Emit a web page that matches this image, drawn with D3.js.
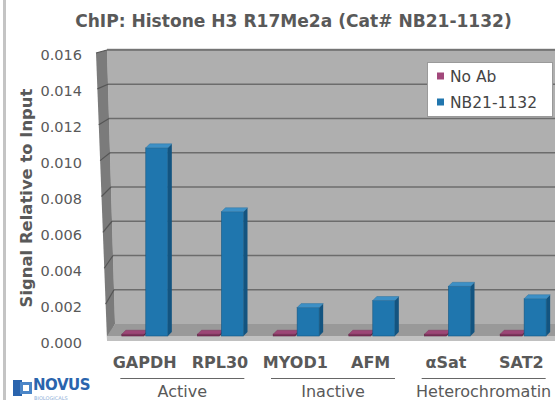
<!DOCTYPE html>
<html><head><meta charset="utf-8">
<script src="https://cdn.jsdelivr.net/npm/d3@7/dist/d3.min.js"></script>
<style>html,body{margin:0;padding:0;background:#fff;}svg{display:block;}</style>
</head><body>
<svg id="c" width="558" height="400"></svg>
<script>
const categories = ["GAPDH","RPL30","MYOD1","AFM","αSat","SAT2"];
const groups = ["Active","Inactive","Heterochromatin"];
const groupMembers = [["GAPDH","RPL30"],["MYOD1","AFM"],["αSat","SAT2"]];
const seriesNames = ["No Ab","NB21-1132"];
const noAbValues = [0.0001,0.0001,0.0001,0.0001,0.0001,0.0001];
const nb21Values = [0.0106,0.0070,0.0016,0.0020,0.0028,0.0021];
const yTicks = [0,0.002,0.004,0.006,0.008,0.010,0.012,0.014,0.016];
const titleText = "ChIP: Histone H3 R17Me2a (Cat# NB21-1132)";
const yTitleText = "Signal Relative to Input";

const FONT = "Verdana, 'DejaVu Sans', sans-serif";
const TXT = "#595959";
const svg = d3.select("#c");

function fit(sel, w){
  const L = sel.node().getComputedTextLength();
  const fs = parseFloat(sel.attr("font-size"));
  sel.attr("font-size", fs*w/L);
}

// scales
const yBack = d3.scaleLinear().domain([0,0.016]).range([324,50]);
const yFront = d3.scaleLinear().domain([0,0.016]).range([340,53]);
const yBar = d3.scaleLinear().domain([0,0.016]).range([336,52]);
const yLab = d3.scaleLinear().domain([0,0.016]).range([343,55]);
const xBand = d3.scaleBand().domain(categories).range([117,571]).padding(0);
const xSub = d3.scaleBand().domain(seriesNames).range([-33,13]).paddingInner(0.08);
const xLabel = d3.scaleBand().domain(categories).range([107,559]).padding(0);
const colors = d3.scaleOrdinal().domain(seriesNames).range(["#a2487b","#2176ae"]);

// left border
svg.append("rect").attr("x",3).attr("y",0).attr("width",3).attr("height",400).attr("fill","#c4c4c4");

// back wall (left edge slanted)
const wallLeftX = y => 107 + (y-50)/(324-50)*8;
svg.append("polygon")
  .attr("points",[[107,50],[555,50],[555,324],[115,324]].map(p=>p.join(",")).join(" "))
  .attr("fill","#afafaf");
svg.append("line").attr("x1",107).attr("x2",555).attr("y1",49.5).attr("y2",49.5).attr("stroke","#8a8a8a").attr("stroke-width",1.5);

// side wall
const frontX = y => 96 + (y-53)/(340-53)*11;
svg.append("polygon")
  .attr("points",[[96,53],[107,50],[115,324],[107,340]].map(p=>p.join(",")).join(" "))
  .attr("fill","#7b7b7b");

// gridlines on back wall and side wall
yTicks.filter(t=>t>0).forEach(t=>{
  const yb = yBack(t), yf = yFront(t);
  svg.append("line").attr("x1",wallLeftX(yb)).attr("x2",555).attr("y1",yb).attr("y2",yb)
    .attr("stroke","#6c6c6c").attr("stroke-width",1.3);
  svg.append("line").attr("x1",frontX(yf)).attr("x2",wallLeftX(yb)).attr("y1",yf).attr("y2",yb)
    .attr("stroke","#555").attr("stroke-width",1.2);
});

// floor
svg.append("polygon")
  .attr("points",[[115,324],[555,324],[555,336],[107,336]].map(p=>p.join(",")).join(" "))
  .attr("fill","#999999");
svg.append("polygon")
  .attr("points",[[107,336],[555,336],[555,341],[107,341]].map(p=>p.join(",")).join(" "))
  .attr("fill","#c0c0c0");

// 3D bars
const DX = 4, DY = -4;
function bar3d(g, x0, w, v, cFront, cTop, cSide){
  const yt = yBar(v), yb = yBar(0);
  g.append("polygon").attr("points",[[x0+w,yt],[x0+w+DX,yt+DY],[x0+w+DX,yb+DY],[x0+w,yb]].map(p=>p.join(",")).join(" "))
    .attr("fill",cSide);
  g.append("rect").attr("x",x0).attr("y",yt).attr("width",w).attr("height",Math.max(0.5,yb-yt))
    .attr("fill",cFront).attr("stroke",d3.color(cFront).darker(0.8)).attr("stroke-width",0.6);
  g.append("polygon").attr("points",[[x0,yt],[x0+DX,yt+DY],[x0+w+DX,yt+DY],[x0+w,yt]].map(p=>p.join(",")).join(" "))
    .attr("fill",cTop).attr("stroke",d3.color(cTop).darker(0.6)).attr("stroke-width",0.5);
}
const barsG = svg.append("g");
categories.forEach((c,i)=>{
  const cx = xBand(c) + xBand.bandwidth()/2;
  bar3d(barsG, cx + xSub("No Ab"), xSub.bandwidth(), noAbValues[i], "#7e2f5a", "#9c4676", "#5e2343");
});
categories.forEach((c,i)=>{
  const cx = xBand(c) + xBand.bandwidth()/2;
  bar3d(barsG, cx + xSub("NB21-1132"), xSub.bandwidth(), nb21Values[i], "#1f76ae", "#3d90c6", "#135480");
});

// y tick labels
svg.append("g").selectAll("text").data(yTicks).join("text")
  .attr("x",82).attr("y",d=>yLab(d)).attr("dy","0.35em")
  .attr("text-anchor","end").attr("font-family",FONT).attr("font-size",14.5).attr("fill",TXT)
  .text(d=>d3.format(".3f")(d));

// title
const title = svg.append("text").attr("x",293.5).attr("y",27).attr("text-anchor","middle")
  .attr("font-family",FONT).attr("font-weight","bold").attr("font-size",14).attr("fill",TXT).text(titleText);
fit(title, 437);

// y title
const yt = svg.append("text").attr("transform","translate(32,198) rotate(-90)").attr("text-anchor","middle")
  .attr("font-family",FONT).attr("font-weight","bold").attr("font-size",15).attr("fill",TXT).text(yTitleText);
fit(yt, 219);

// category labels
svg.append("g").selectAll("text").data(categories).join("text")
  .attr("x",d=>xLabel(d)+xLabel.bandwidth()/2).attr("y",368).attr("text-anchor","middle")
  .attr("font-family",FONT).attr("font-weight","bold").attr("font-size",16).attr("fill",TXT)
  .text(d=>d);

// groups
groups.forEach((g,i)=>{
  const m = groupMembers[i];
  const gc = (xLabel(m[0]) + xLabel(m[1]) + xLabel.bandwidth())/2;
  svg.append("line").attr("x1",gc-62).attr("x2",gc+62).attr("y1",378.5).attr("y2",378.5)
    .attr("stroke","#666").attr("stroke-width",1.2);
  svg.append("text").attr("x",gc).attr("y",397).attr("text-anchor","middle")
    .attr("font-family",FONT).attr("font-size",16).attr("fill",TXT).text(g);
});

// legend
const lg = svg.append("g");
lg.append("rect").attr("x",427.5).attr("y",62.5).attr("width",125).attr("height",54)
  .attr("fill","#fff").attr("stroke","#9a9a9a").attr("stroke-width",1);
seriesNames.forEach((s,i)=>{
  const yy = 76 + i*26;
  lg.append("rect").attr("x",437).attr("y",yy-3.5).attr("width",7).attr("height",7).attr("fill",colors(s));
  lg.append("text").attr("x",450).attr("y",yy).attr("dy","0.36em")
    .attr("font-family",FONT).attr("font-size",15.5).attr("fill","#444").text(s);
});

// logo
const logo = svg.append("g");
logo.append("rect").attr("x",13).attr("y",380).attr("width",9).attr("height",16).attr("fill","#2a64ad");
logo.append("rect").attr("x",20).attr("y",382).attr("width",12).attr("height",12).attr("fill","#4b86c8");
logo.append("rect").attr("x",23).attr("y",385).attr("width",6).attr("height",6).attr("fill","#fff");
logo.append("text").attr("x",33).attr("y",390).attr("font-family",FONT).attr("font-weight","bold")
  .attr("font-size",15).attr("fill","#2a64ad").attr("letter-spacing",-0.5).text("NOVUS");
logo.append("text").attr("x",34).attr("y",399.5).attr("font-family",FONT)
  .attr("font-size",5).attr("fill","#8fb0d8").text("BIOLOGICALS");
</script>
</body></html>
